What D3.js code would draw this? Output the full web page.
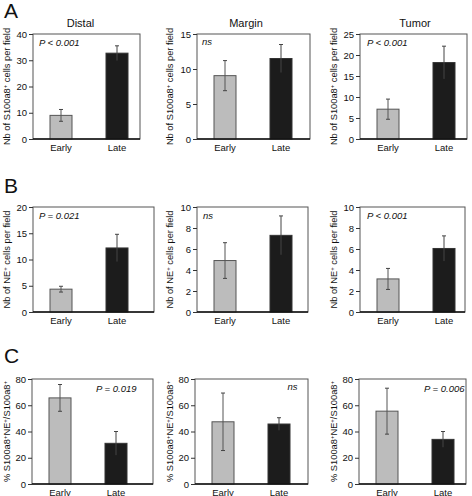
<!DOCTYPE html>
<html><head><meta charset="utf-8">
<script src="https://cdn.jsdelivr.net/npm/d3@7"></script>
<style>
html,body{margin:0;padding:0;background:#fff;}
text{font-family:"Liberation Sans",Arial,Helvetica,sans-serif;fill:#111;}
</style></head>
<body><svg id="c" width="472" height="496"></svg>
<script>
// ---- data ----
const groups = ["Early", "Late"];
const regions = ["Distal", "Margin", "Tumor"];
const rowLetters = ["A", "B", "C"];
const s100a8Mean = [[9.0, 32.7], [9.05, 11.5], [7.1, 18.2]];
const s100a8Err  = [[2.25, 2.8], [2.15, 2.0], [2.4, 3.9]];
const neMean = [[4.35, 12.2], [4.9, 7.3], [3.15, 6.05]];
const neErr  = [[0.55, 2.6], [1.7, 1.85], [1.0, 1.2]];
const pctMean = [[65.6, 31.0], [47.4, 45.7], [55.5, 34.0]];
const pctErr  = [[10.2, 9.0], [21.9, 4.8], [17.5, 6.0]];
const yMaxA = [40, 15, 25], yStepA = [10, 5, 5];
const yMaxB = [20, 10, 10], yStepB = [5, 2, 2];
const yMaxC = [80, 80, 80], yStepC = [20, 20, 20];
const pLabelsA = ["P < 0.001", "ns", "P < 0.001"];
const pLabelsB = ["P = 0.021", "ns", "P < 0.001"];
const pLabelsC = ["P = 0.019", "ns", "P = 0.006"];

// ---- layout ----
const rows = [
  {letter:"A", mean:s100a8Mean, err:s100a8Err, ymax:yMaxA, step:yStepA, p:pLabelsA, pRight:false,
   label:[["Nb of S100a8",""],["+",'sup'],[" cells per field",""]], top:34, bottom:139, letterY:17.5,
   frames:[[33,140],[197,310],[360,467]], pOff:[[6,12],[5,11],[7,12]], titles:true},
  {letter:"B", mean:neMean, err:neErr, ymax:yMaxB, step:yStepB, p:pLabelsB, pRight:false,
   label:[["Nb of NE",""],["+",'sup'],[" cells per field",""]], top:207, bottom:312, letterY:193,
   frames:[[33,154],[197,308],[360,465]], pOff:[[6,11.5],[6,11.5],[7,11.5]], titles:false},
  {letter:"C", mean:pctMean, err:pctErr, ymax:yMaxC, step:yStepC, p:pLabelsC, pRight:true,
   label:[["% S100a8",""],["+",'sup'],["NE",""],["+",'sup'],["/S100a8",""],["+",'sup']], top:379, bottom:484, letterY:363,
   frames:[[32,153],[195,308],[359,466]], pOff:[[16.5,12.5],[10.5,11],[1.5,12.5]], titles:false}
];
const titleX = [80.5, 246, 415];
const labelX = [6.5, 170, 334];

const svg = d3.select("#c");

rows.forEach((r, ri) => {
  svg.append("text").attr("x", 4).attr("y", r.letterY)
    .style("font-size", "21px").text(r.letter);
  r.frames.forEach((fr, ci) => {
    const [x0, x1] = fr;
    const g = svg.append("g");
    const y = d3.scaleLinear().domain([0, r.ymax[ci]]).range([r.bottom, r.top]);
    const x = d3.scalePoint().domain(groups).range([x0 + 28, x0 + 84]);
    const bw = 22;
    // frame
    g.append("rect").attr("x", x0).attr("y", r.top).attr("width", x1 - x0).attr("height", r.bottom - r.top)
      .attr("fill", "none").attr("stroke", "#555").attr("stroke-width", 1);
    // bars
    const data = groups.map((k, i) => ({k, v: r.mean[ci][i], e: r.err[ci][i]}));
    g.selectAll(".bar").data(data).enter().append("rect")
      .attr("x", d => x(d.k) - bw / 2).attr("width", bw)
      .attr("y", d => y(d.v)).attr("height", d => y(0) - y(d.v))
      .attr("fill", (d, i) => i === 0 ? "#bcbcbc" : "#1c1c1c")
      .attr("stroke", (d, i) => i === 0 ? "#555" : "#333").attr("stroke-width", 1);
    // error bars
    const eb = g.selectAll(".eb").data(data).enter().append("g");
    eb.append("line").attr("x1", d => x(d.k)).attr("x2", d => x(d.k))
      .attr("y1", d => y(d.v - d.e)).attr("y2", d => y(d.v + d.e))
      .attr("stroke", (d, i) => i === 0 ? "#555" : "#444").attr("stroke-width", 1);
    eb.append("line").attr("x1", d => x(d.k) - 2).attr("x2", d => x(d.k) + 2)
      .attr("y1", d => y(d.v + d.e)).attr("y2", d => y(d.v + d.e))
      .attr("stroke", "#444").attr("stroke-width", 1);
    eb.filter((d, i) => i === 0).append("line").attr("x1", d => x(d.k) - 2).attr("x2", d => x(d.k) + 2)
      .attr("y1", d => y(d.v - d.e)).attr("y2", d => y(d.v - d.e))
      .attr("stroke", "#444").attr("stroke-width", 1);
    // baseline
    g.append("line").attr("x1", x0).attr("x2", x1).attr("y1", y(0)).attr("y2", y(0))
      .attr("stroke", "#111").attr("stroke-width", 1.5);
    // y axis
    const ticks = d3.range(0, r.ymax[ci] + 1e-9, r.step[ci]);
    const ya = g.append("g").attr("transform", `translate(${x0},0)`)
      .call(d3.axisLeft(y).tickValues(ticks).tickSize(4).tickPadding(2).tickFormat(d3.format("d")));
    ya.select(".domain").remove();
    ya.selectAll("line").attr("stroke", "#333");
    ya.selectAll("text").style("font-size", "9.5px").attr("fill", "#111")
      .style("font-family", '"Liberation Sans",Arial,sans-serif');
    // x labels
    g.selectAll(".xl").data(groups).enter().append("text")
      .attr("x", d => x(d)).attr("y", r.bottom + 11.5).attr("text-anchor", "middle")
      .style("font-size", "9.5px").text(d => d);
    // y label
    const yl = g.append("text")
      .attr("transform", `translate(${labelX[ci]},${(r.top + r.bottom) / 2}) rotate(-90)`)
      .attr("text-anchor", "middle").attr("dy", "0.35em").style("font-size", "9.3px");
    r.label.forEach(([t, s]) => {
      const ts = yl.append("tspan").text(t);
      if (s === 'sup') ts.attr("baseline-shift", "super").style("font-size", "6px");
    });
    // p label
    const [ox, oy] = r.pOff[ci];
    g.append("text")
      .attr("x", r.pRight ? x1 - ox : x0 + ox).attr("y", r.top + oy)
      .attr("text-anchor", r.pRight ? "end" : "start")
      .style("font-size", "9.5px").style("font-style", "italic").text(r.p[ci]);
    // title
    if (r.titles) {
      g.append("text").attr("x", titleX[ci]).attr("y", 27).attr("text-anchor", "middle")
        .style("font-size", "11px").text(regions[ci]);
    }
  });
});
</script>
</body></html>
